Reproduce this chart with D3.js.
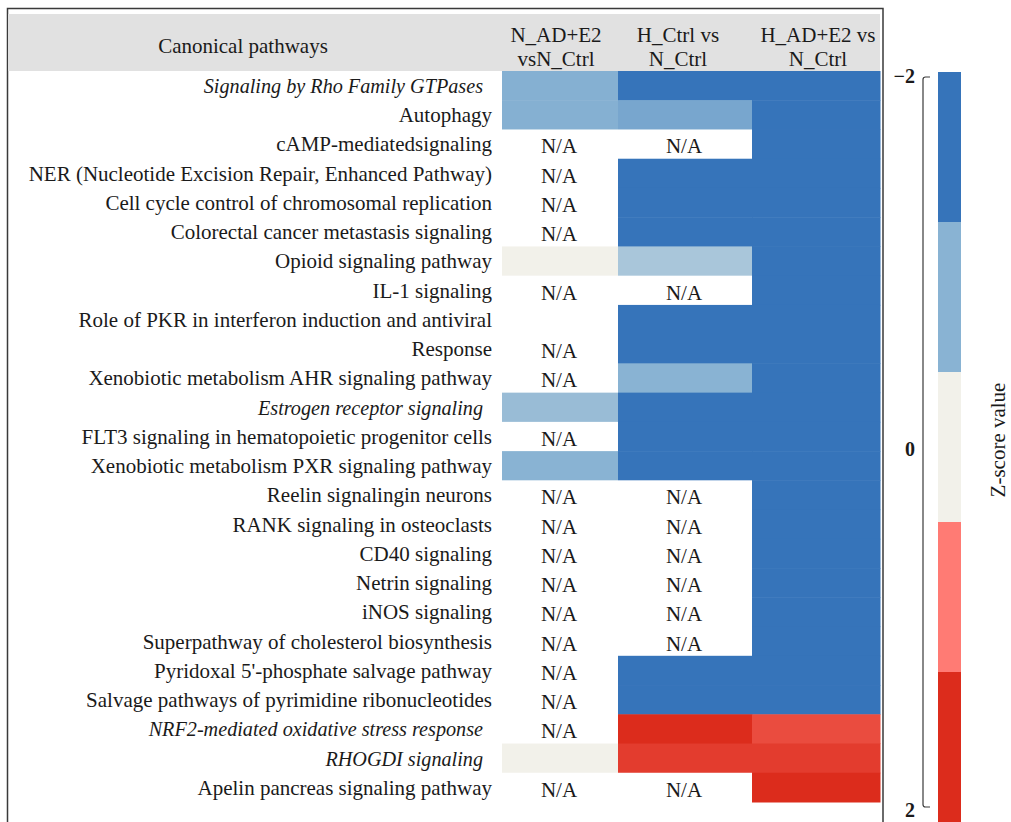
<!DOCTYPE html>
<html>
<head>
<meta charset="utf-8">
<script src="https://cdn.jsdelivr.net/npm/d3@7/dist/d3.min.js"></script>
<style>
  body { margin: 0; background: #fff; }
  svg { display: block; }
  text { font-family: "Liberation Serif", "Times New Roman", serif; fill: #1a1a1a; }
</style>
</head>
<body>
<svg id="chart" width="1011" height="822"></svg>
<script>
var width = 1011;
var height = 822;

// pathway names (one entry per row, extra lines for wrapped names)
var pathways = [
    ['Signaling by Rho Family GTPases'],
    ['Autophagy'],
    ['cAMP-mediatedsignaling'],
    ['NER (Nucleotide Excision Repair, Enhanced Pathway)'],
    ['Cell cycle control of chromosomal replication'],
    ['Colorectal cancer metastasis signaling'],
    ['Opioid signaling pathway'],
    ['IL-1 signaling'],
    ['Role of PKR in interferon induction and antiviral', 'Response'],
    ['Xenobiotic metabolism AHR signaling pathway'],
    ['Estrogen receptor signaling'],
    ['FLT3 signaling in hematopoietic progenitor cells'],
    ['Xenobiotic metabolism PXR signaling pathway'],
    ['Reelin signalingin neurons'],
    ['RANK signaling in osteoclasts'],
    ['CD40 signaling'],
    ['Netrin signaling'],
    ['iNOS signaling'],
    ['Superpathway of cholesterol biosynthesis'],
    ['Pyridoxal 5\'-phosphate salvage pathway'],
    ['Salvage pathways of pyrimidine ribonucleotides'],
    ['NRF2-mediated oxidative stress response'],
    ['RHOGDI signaling'],
    ['Apelin pancreas signaling pathway']
];
var italicRows = [0, 10, 21, 22];

var comparisons = [
    ['N_AD+E2', 'vsN_Ctrl'],
    ['H_Ctrl vs', 'N_Ctrl'],
    ['H_AD+E2 vs', 'N_Ctrl']
];

// z-scores, null = N/A
var zNadE2 = [-1.05, -1.05, null, null, null, null, 0, null, null, null, -0.85, null, -1.0,
    null, null, null, null, null, null, null, null, null, 0, null];
var zHctrl = [-2.3, -1.2, null, -2.4, -2.2, -2.3, -0.7, null, -2.6, -1.0, -2.1, -2.0, -2.5,
    null, null, null, null, null, null, -2.0, -2.2, 2.0, 1.8, null];
var zHadE2 = [-3.1, -2.8, -2.4, -2.6, -2.9, -3.2, -2.5, -2.2, -3.0, -2.7, -3.4, -2.6, -2.9,
    -2.3, -2.5, -2.4, -2.2, -2.6, -2.8, -2.3, -2.5, 1.6, 1.8, 2.1];

var legendTicks = [-2, 0, 2];
var legendColors = ['#3674BA', '#89B3D3', '#F2F1EA', '#FF7B74', '#DC2C1C'];

var svg = d3.select('#chart');

var series = [zNadE2, zHctrl, zHadE2];

// row layout: wrapped rows take more than one unit
var rowStart = [];
var units = 0;
pathways.forEach(function (p) {
    rowStart.push(units);
    units += p.length;
});

var y = d3.scaleLinear().domain([0, units]).range([71, 802]);
var colX = d3.scaleOrdinal().domain([0, 1, 2]).range([502, 618, 752]);
var colW = d3.scaleOrdinal().domain([0, 1, 2]).range([116, 134, 128]);

var color = d3.scaleLinear()
    .domain([-2, -1, 0, 1, 2])
    .range(legendColors)
    .clamp(true);

// frame
svg.append('path')
    .attr('d', 'M7.5,822V8.5H883V822')
    .attr('fill', 'none')
    .attr('stroke', '#3a3a3a')
    .attr('stroke-width', 1.5);

// header band
svg.append('rect')
    .attr('x', 8).attr('y', 14)
    .attr('width', 872).attr('height', 57)
    .attr('fill', '#E1E1E1');

svg.append('text')
    .attr('x', 243).attr('y', 53)
    .attr('text-anchor', 'middle')
    .style('font-size', '21px')
    .text('Canonical pathways');

var headCenters = [556, 678, 818];
comparisons.forEach(function (lines, c) {
    lines.forEach(function (t, k) {
        svg.append('text')
            .attr('x', headCenters[c])
            .attr('y', 42 + k * 24)
            .attr('text-anchor', 'middle')
            .style('font-size', '21px')
            .text(t);
    });
});

// cells
series.forEach(function (vals, c) {
    var g = svg.append('g');
    g.selectAll('rect')
        .data(vals.map(function (v, i) { return {v: v, i: i}; }))
        .enter().append('rect')
        .attr('x', colX(c))
        .attr('y', function (d) { return y(rowStart[d.i]); })
        .attr('width', colW(c) + 0.5)
        .attr('height', function (d) { return y(pathways[d.i].length) - y(0) + 0.5; })
        .attr('fill', function (d) { return d.v === null ? '#ffffff' : color(d.v); });

    g.selectAll('text')
        .data(vals.map(function (v, i) { return {v: v, i: i}; }).filter(function (d) { return d.v === null; }))
        .enter().append('text')
        .attr('x', colX(c) + colW(c) / 2 - 1)
        .attr('y', function (d) { return y(rowStart[d.i] + pathways[d.i].length - 1) + 24; })
        .attr('text-anchor', 'middle')
        .style('font-size', '21px')
        .text('N/A');
});

// row labels
pathways.forEach(function (lines, i) {
    var it = italicRows.indexOf(i) >= 0;
    lines.forEach(function (t, k) {
        svg.append('text')
            .attr('x', it ? 483 : 492)
            .attr('y', y(rowStart[i] + k) + 22)
            .attr('text-anchor', 'end')
            .style('font-size', it ? '20.2px' : '21px')
            .style('font-style', it ? 'italic' : 'normal')
            .text(t);
    });
});

// legend
var ly = d3.scaleBand().domain(d3.range(legendColors.length)).range([72, 822]);
svg.append('g').selectAll('rect')
    .data(legendColors)
    .enter().append('rect')
    .attr('x', 938)
    .attr('y', function (d, i) { return ly(i); })
    .attr('width', 23)
    .attr('height', ly.bandwidth() + 0.5)
    .attr('fill', function (d) { return d; });

var lz = d3.scaleLinear().domain([-2, 2]).range([77, 807]);
svg.append('path')
    .attr('d', 'M930,' + lz(-2) + 'H925.5Q923,' + lz(-2) + ' 923,' + (lz(-2) + 2.5) +
        'V' + (lz(2) - 2.5) + 'Q923,' + lz(2) + ' 925.5,' + lz(2) + 'H930')
    .attr('fill', 'none')
    .attr('stroke', '#3a3a3a')
    .attr('stroke-width', 1.2);

svg.selectAll('text.tick')
    .data(legendTicks)
    .enter().append('text')
    .attr('class', 'tick')
    .attr('x', 915)
    .attr('y', function (d) { return lz(d) + (d === -2 ? 6 : d === 2 ? 10 : 14); })
    .attr('text-anchor', 'end')
    .style('font-size', '20px')
    .style('font-weight', 'bold')
    .text(function (d) { return d < 0 ? '\u2212' + Math.abs(d) : d; });

svg.append('text')
    .attr('transform', 'translate(1005,440) rotate(-90)')
    .attr('text-anchor', 'middle')
    .style('font-size', '21px')
    .text('Z-score value');
</script>
</body>
</html>
